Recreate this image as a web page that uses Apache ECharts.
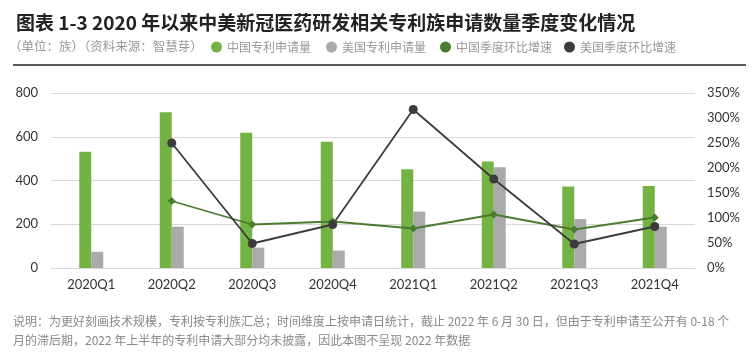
<!DOCTYPE html>
<html><head><meta charset="utf-8">
<script src="https://cdn.jsdelivr.net/npm/echarts@6/dist/echarts.min.js"></script>
<style>html,body{margin:0;padding:0;background:#fff}#c{width:756px;height:357px}</style>
</head><body><div id="c"></div>
<script>
const categories = ['2020Q1','2020Q2','2020Q3','2020Q4','2021Q1','2021Q2','2021Q3','2021Q4'];
const chinaApps = [532, 712, 618, 577, 452, 487, 373, 375];
const usApps = [74, 189, 93, 80, 258, 461, 224, 189];
const chinaGrowth = [null, 134, 87, 93, 79, 107, 77, 101];
const usGrowth = [null, 250, 49, 87, 317, 178, 48, 83];
const leftTicks = [0, 200, 400, 600, 800];
const rightTicks = [0, 50, 100, 150, 200, 250, 300, 350];
const legendNames = ['中国专利申请量', '美国专利申请量', '中国季度环比增速', '美国季度环比增速'];

const CJK = '"Noto Sans CJK SC", "Noto Sans", sans-serif';
const NUM = 'Lato, "Noto Sans", sans-serif';
const colors = ['#74b244', '#aaaaaa', '#4a7c2f', '#3c3c3c'];
const legendLeft = [211, 326, 440, 564];
const chart = echarts.init(document.getElementById('c'));
chart.setOption({
  animation: false,
  title: {
    text: '图表 1-3 2020 年以来中美新冠医药研发相关专利族申请数量季度变化情况',
    left: 11, top: 8,
    textStyle: { fontFamily: CJK, fontSize: 19, fontWeight: 'bold', color: '#222' }
  },
  graphic: [
    { type: 'text', left: 9, top: 40, style: { text: '（单位：族）（资料来源：智慧芽）', font: '12.5px ' + CJK, fill: '#999' } },
    { type: 'line', shape: { x1: 13, y1: 65, x2: 746, y2: 65 }, style: { stroke: '#222', lineWidth: 1.5 } },
    { type: 'text', left: 13, top: 315, style: { text: '说明：为更好刻画技术规模，专利按专利族汇总；时间维度上按申请日统计，截止 2022 年 6 月 30 日，但由于专利申请至公开有 0-18 个', font: '12px ' + CJK, fill: '#888' } },
    { type: 'text', left: 13, top: 334, style: { text: '月的滞后期，2022 年上半年的专利申请大部分均未披露，因此本图不呈现 2022 年数据', font: '12px ' + CJK, fill: '#888' } }
  ],
  legend: legendNames.map((n, i) => ({
    left: legendLeft[i], top: 41, itemWidth: 11, itemHeight: 11, padding: 0,
    icon: 'circle',
    textStyle: { fontFamily: CJK, fontSize: 12, color: '#999' },
    data: [{ name: n, itemStyle: { color: colors[i] } }]
  })),
  grid: { left: 51, right: 61, top: 93, bottom: 89 },
  xAxis: {
    type: 'category', data: categories,
    axisTick: { show: false },
    axisLine: { lineStyle: { color: '#d9d9d9', width: 1 } },
    axisLabel: { fontFamily: NUM, fontSize: 13, color: '#333', margin: 10 }
  },
  yAxis: [
    { type: 'value', min: 0, max: 800, interval: 200,
      axisLine: { show: false }, axisTick: { show: false },
      axisLabel: { fontFamily: NUM, fontSize: 13, color: '#333', margin: 13,
        formatter: v => leftTicks.includes(v) ? String(v) : '' },
      splitLine: { lineStyle: { color: '#d9d9d9', width: 1 } } },
    { type: 'value', min: 0, max: 350, interval: 50, position: 'right',
      axisLine: { show: false }, axisTick: { show: false },
      axisLabel: { fontFamily: NUM, fontSize: 13, color: '#333', margin: 12,
        formatter: v => rightTicks.includes(v) ? v + '%' : '' },
      splitLine: { show: false } }
  ],
  series: [
    { name: legendNames[0], type: 'bar', data: chinaApps, barWidth: 12, barGap: '0%',
      itemStyle: { color: colors[0] } },
    { name: legendNames[1], type: 'bar', data: usApps, barWidth: 12,
      itemStyle: { color: colors[1] } },
    { name: legendNames[2], type: 'line', yAxisIndex: 1, data: chinaGrowth,
      symbol: 'diamond', symbolSize: 8, lineStyle: { color: colors[2], width: 1.8 },
      itemStyle: { color: colors[2] } },
    { name: legendNames[3], type: 'line', yAxisIndex: 1, data: usGrowth,
      symbol: 'circle', symbolSize: 9, lineStyle: { color: colors[3], width: 1.8 },
      itemStyle: { color: colors[3] } }
  ]
});
</script></body></html>
